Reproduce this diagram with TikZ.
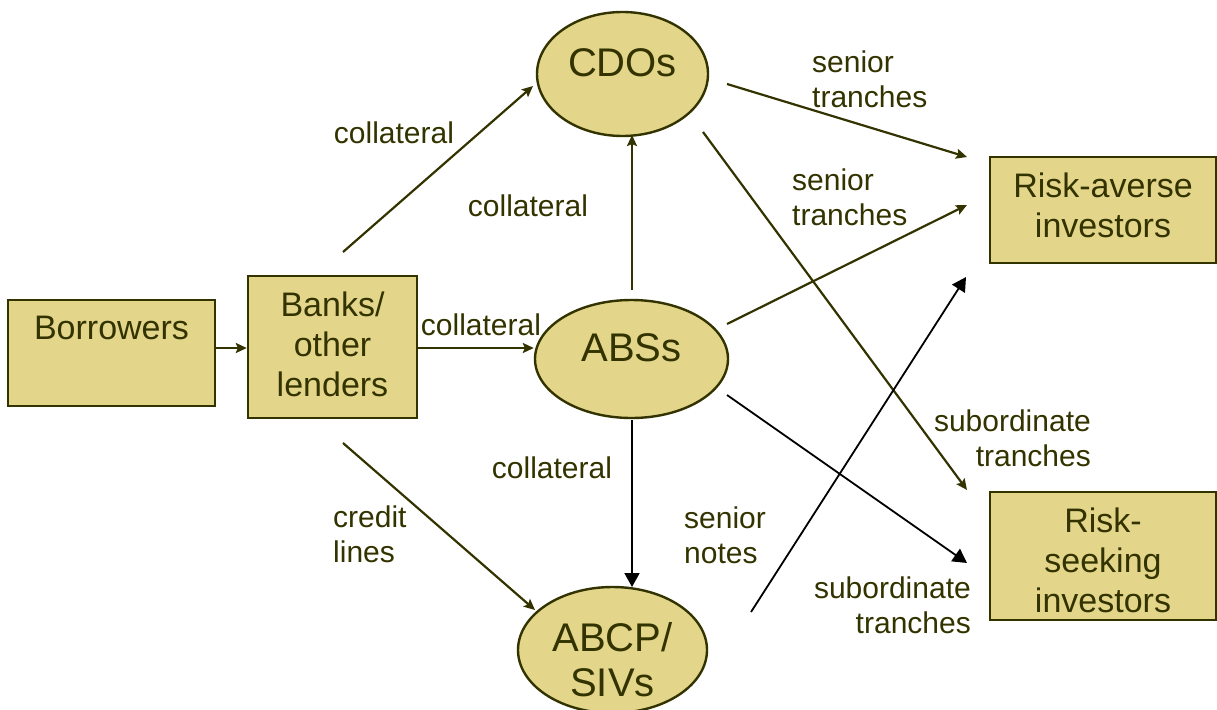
\documentclass[tikz,border=0pt]{standalone}
\usepackage{fontspec}
\setmainfont{Liberation Sans}
\usetikzlibrary{arrows.meta,shapes.geometric,calc}
\definecolor{olive}{RGB}{51,51,0}
\definecolor{khaki}{RGB}{227,214,139}
\tikzset{
  boxshape/.style={draw=olive, fill=khaki, line width=2.4pt, rectangle, inner sep=0pt},
  ellshape/.style={draw=olive, fill=khaki, line width=2.4pt, ellipse, inner sep=0pt},
  boxtxt/.style={text=olive, inner sep=0pt, align=center, font=\fontsize{34}{40}\selectfont},
  elltxt/.style={text=olive, inner sep=0pt, align=center, font=\fontsize{40}{45}\selectfont},
  lbl/.style={text=olive, inner sep=0pt, font=\fontsize{30}{35}\selectfont},
  oarrow/.style={draw=olive, line width=2.2pt, -{Stealth[length=11pt,width=10pt,inset=2pt]}},
  barrow/.style={draw=black, line width=1.8pt, -{Triangle[length=14pt,width=15pt]}}
}
\begin{document}
\begin{tikzpicture}[x=1pt,y=-1pt]
\useasboundingbox (0,0) rectangle (1217,709);
% shapes
\node[boxshape, minimum width=207pt, minimum height=106pt] (bor) at (111.5,353) {};
\node[boxshape, minimum width=169pt, minimum height=142pt] (banks) at (332.5,347) {};
\node[ellshape, minimum width=171pt, minimum height=124pt] (cdos) at (622.5,74) {};
\node[ellshape, minimum width=193pt, minimum height=118pt] (abs) at (631.5,359) {};
\node[ellshape, minimum width=189pt, minimum height=126pt] (abcp) at (612.5,650) {};
\node[boxshape, minimum width=226pt, minimum height=106pt] (ra) at (1103,210) {};
\node[boxshape, minimum width=226pt, minimum height=128pt] (rs) at (1103,556) {};
% texts inside shapes
\node[boxtxt] (bor-t) at (111.5,328) {Borrowers};
\node[boxtxt] (banks-t) at (332.5,344) {Banks/\\other\\lenders};
\node[elltxt] (cdos-t) at (622.5,63) {CDOs};
\node[elltxt] (abs-t) at (631.5,348) {ABSs};
\node[elltxt] (abcp-t) at (612.5,659.5) {ABCP/\\SIVs};
\node[boxtxt] (ra-t) at (1103,205) {Risk-averse\\investors};
\node[boxtxt] (rs-t) at (1103,560) {Risk-\\seeking\\investors};
% connectors
\draw[oarrow] ($(bor.east)+(0,-5)$) -- ($(banks.west)+(0,1)$);
\draw[oarrow] ($(banks)+(10.5,-95)$) -- ($(cdos)+(-89.5,12)$);
\draw[oarrow] ($(banks.east)+(0,1)$) -- ($(abs.west)+(0,-11)$);
\draw[oarrow] ($(banks)+(10.5,96)$) -- ($(abcp)+(-77.5,-40)$);
\draw[oarrow] ($(abs)+(0.5,-69)$) -- ($(cdos)+(9.5,61)$);
\draw[barrow] ($(abs)+(0.5,61)$) -- ($(abcp)+(19.5,-63)$);
\draw[oarrow] ($(cdos)+(104.5,10)$) -- ($(ra)+(-136,-53)$);
\draw[oarrow] ($(cdos)+(80.5,58)$) -- ($(rs)+(-136,-66)$);
\draw[oarrow] ($(abs)+(95.5,-35)$) -- ($(ra)+(-136,-5)$);
\draw[barrow] ($(abs)+(95.5,36)$) -- ($(rs)+(-136,7)$);
\draw[barrow] ($(abcp)+(138.5,-38)$) -- ($(ra)+(-137,67)$);
% labels
\node[lbl] (l1) at (394,133) {collateral};
\node[lbl] (l2) at (528,206) {collateral};
\node[lbl] (l3) at (481,325) {collateral};
\node[lbl] (l4) at (552,468) {collateral};
\node[lbl, anchor=west, align=left] (l5) at (333,534.5) {credit\\lines};
\node[lbl, anchor=west, align=left] (l6) at (812,79) {senior\\tranches};
\node[lbl, anchor=west, align=left] (l7) at (792,197.5) {senior\\tranches};
\node[lbl, anchor=east, align=right] (l8) at (1091,438.5) {subordinate\\tranches};
\node[lbl, anchor=east, align=right] (l9) at (971,605.5) {subordinate\\tranches};
\node[lbl, anchor=west, align=left] (l10) at (684,535) {senior\\notes};
\end{tikzpicture}
\end{document}
